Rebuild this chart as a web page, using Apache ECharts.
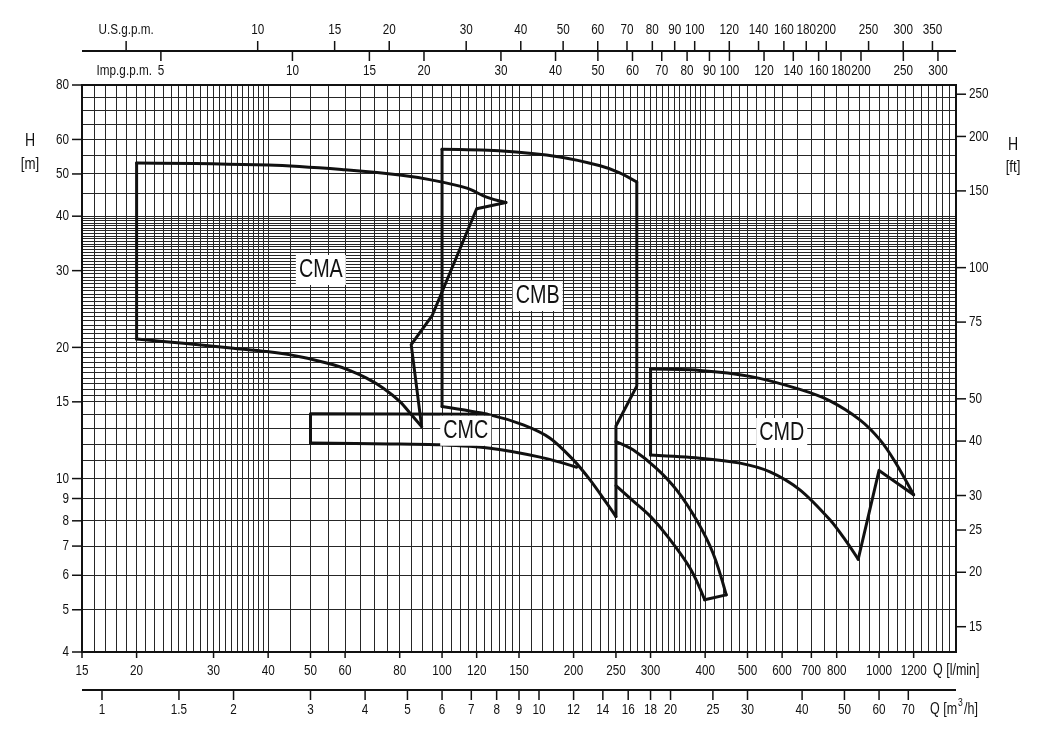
<!DOCTYPE html>
<html><head><meta charset="utf-8">
<script src="https://cdn.jsdelivr.net/npm/echarts@6/dist/echarts.min.js"></script>
<style>html,body{margin:0;padding:0;background:#fff}#c{width:1047px;height:744px}</style>
</head><body><div id="c"></div>
<script>
// ---------- tick labels (axis values) ----------
const qLabelsLmin = [15,20,30,40,50,60,80,100,120,150,200,250,300,400,500,600,700,800,1000,1200];
const qLabelsM3h = [1,1.5,2,3,4,5,6,7,8,9,10,12,14,16,18,20,25,30,40,50,60,70];
const usGpmTitleTick = 5;
const usGpmLabels = [10,15,20,30,40,50,60,70,80,90,100,120,140,160,180,200,250,300,350];
const impGpmLabels = [5,10,15,20,30,40,50,60,70,80,90,100,120,140,160,180,200,250,300];
const hLabelsM = [4,5,6,7,8,9,10,15,20,30,40,50,60,80];
const hLabelsFt = [15,20,25,30,40,50,75,100,150,200,250];
// grid line spacing: [from, to, step]
const xGridRanges = [[15,40,1],[40,150,5],[150,400,10],[400,500,20],[500,600,25],[600,1500,50]];
const yGridRanges = [[5,15,1],[15,40,0.5],[40,80,5]];

// ---------- curves  [Q l/min, H m] ----------
const cmaTop    = [[20,53],[40,52.4],[60,51.1],[80,49.7],[95,48.4],[114,46.4],[126,44.3],[140,43.0]];
const cmaEdge   = [[140,43.0],[120,41.6],[95,23.7],[85,20.3],[89.8,13.16]];
const cmaBottom = [[89.8,13.16],[84.5,14.13],[80.1,15.02],[73.4,16.12],[67.2,17.0],[61.6,17.69],[56.4,18.24],[47.3,19.04],[39.7,19.56],[33.3,19.91],[25.6,20.44],[20,20.9]];
const cmaLeft   = [[20,20.9],[20,53]];

const cmbLeft   = [[100,14.63],[100,57]];
const cmbTop    = [[100,57],[135,56.5],[186,54.7],[230,52.2],[255,50.3],[279,47.9]];
const cmbRight  = [[279,47.9],[279,16.3],[250,13.2],[250,8.18]];
const cmbBottom = [[100,14.63],[128.7,14.0],[153.4,13.28],[176.7,12.38],[199.7,11.04],[218.1,9.93],[238.1,8.78],[250,8.18]];

const tailUpper = [[250,12.16],[273.5,11.64],[309,10.57],[344,9.42],[382,8.04],[417,6.74],[447,5.41]];
const tailEnd   = [[447,5.41],[399,5.27]];
const tailLower = [[399,5.27],[369,6.24],[326,7.43],[299,8.21],[273.5,8.89],[250,9.63]];

const cmcFrame  = [[127,14.05],[50,14.08],[50,12.06]];
const cmcBottom = [[50,12.06],[76,12.01],[98.9,11.95],[128.7,11.74],[167.6,11.2],[203.3,10.62]];

const cmdLeft   = [[300,11.33],[300,17.83]];
const cmdTop    = [[300,17.83],[389,17.71],[507,17.16],[659,16.02],[772,15.08],[904,13.64],[1005,12.27],[1088,10.93],[1200,9.18]];
const cmdNotch  = [[1200,9.18],[1000,10.44],[896,6.53]];
const cmdBottom = [[896,6.53],[836,7.24],[772,8.04],[659,9.42],[563,10.36],[481,10.85],[389,11.14],[300,11.33]];

// ---------- region labels ----------
const labelNames = ['CMA','CMB','CMC','CMD'];
const labelQ = [52.8,165.5,113.3,598.7];
const labelH = [30.1,26.25,12.87,12.73];

// unit conversions
const LPM_PER_M3H = 1000/60, LPM_PER_USGAL = 3.78541, LPM_PER_IMPGAL = 4.54609, M_PER_FT = 0.3048;
const FONT = '"Liberation Sans",Arial,Helvetica,sans-serif';
const INK = '#111';
const NARROW = 0.78;

function expand(ranges){
  const out=[];
  ranges.forEach(([a,b,s])=>{ for(let v=a; v<=b+1e-9; v+=s){ out.push(Math.round(v*100)/100); } });
  return out;
}
const xGrid = expand(xGridRanges), yGrid = expand(yGridRanges);
const crisp = v => Math.floor(v) + 0.5;

function txt(x,y,t,align,size,extra){
  return {type:'text',x:x,y:y,scaleX:NARROW,
    style:Object.assign({x:0,y:0,text:t,fill:INK,fontSize:size||15,fontFamily:FONT,align:align||'center',verticalAlign:'middle'},extra||{})};
}

function renderGrid(params, api){
  const c=[];
  const px=v=>api.coord([v,10])[0], py=v=>api.coord([100,v])[1];
  const xL=px(15), xR=px(1500), yT=py(80), yB=py(4);
  xGrid.forEach(v=>{const x=crisp(px(v)); c.push({type:'line',shape:{x1:x,y1:yT,x2:x,y2:yB},style:{stroke:'#262626',lineWidth:1}});});
  yGrid.forEach(v=>{const y=crisp(py(v)); c.push({type:'line',shape:{x1:xL,y1:y,x2:xR,y2:y},style:{stroke:'#262626',lineWidth:1}});});
  return {type:'group',children:c};
}

function renderAxes(params, api){
  const c=[];
  const px=v=>api.coord([v,10])[0], py=v=>api.coord([100,v])[1];
  const xL=px(15), xR=px(1500), yT=py(80), yB=py(4);
  const line=(x1,y1,x2,y2,w)=>c.push({type:'line',shape:{x1,y1,x2,y2},style:{stroke:INK,lineWidth:w||1.5}});
  const text=(x,y,t,align,size)=>c.push(txt(x,y,t,align,size));
  // frame
  c.push({type:'rect',shape:{x:xL,y:yT,width:xR-xL,height:yB-yT},style:{fill:null,stroke:INK,lineWidth:2}});
  // bottom: l/min
  qLabelsLmin.forEach(v=>{const x=px(v); line(x,yB,x,yB+6); text(x,yB+19,String(v));});
  text(xR-23,yB+19,'Q [l/min]','left',16);
  // m3/h axis
  const yM=yB+38;
  line(xL,yM,xR,yM,2);
  qLabelsM3h.forEach(v=>{const x=px(v*LPM_PER_M3H); line(x,yM,x,yM+10); text(x,yM+20,String(v));});
  text(xR-26,yM+20,'Q [m','left',16);
  text(xR+2,yM+13,'3','left',11);
  text(xR+8,yM+20,'/h]','left',16);
  // top: US gpm and Imp gpm sharing one line
  const yG=yT-34;
  line(xL,yG,xR,yG,2);
  const xu=px(usGpmTitleTick*LPM_PER_USGAL); line(xu,yG,xu,yG-10); text(xu,yG-21,'U.S.g.p.m.');
  usGpmLabels.forEach(v=>{const x=px(v*LPM_PER_USGAL); line(x,yG,x,yG-10); text(x,yG-21,String(v));});
  impGpmLabels.forEach(v=>{const x=px(v*LPM_PER_IMPGAL); line(x,yG,x,yG+10); text(x,yG+20,String(v));});
  text(px(impGpmLabels[0]*LPM_PER_IMPGAL)-9,yG+20,'Imp.g.p.m.','right');
  // left: H [m]
  hLabelsM.forEach(v=>{const y=py(v); line(xL-10,y,xL,y); text(xL-13,y,String(v),'right');});
  text(30,yT+56,'H','center',18);
  text(30,yT+79,'[m]','center',17);
  // right: H [ft]
  hLabelsFt.forEach(v=>{const y=py(v*M_PER_FT); line(xR,y,xR+10,y); text(xR+13,y,String(v),'left');});
  text(1013,yT+60,'H','center',18);
  text(1013,yT+82,'[ft]','center',17);
  return {type:'group',children:c};
}

function renderLabel(params, api){
  const p = api.coord([api.value(0), api.value(1)]);
  const el = txt(p[0], p[1], labelNames[params.dataIndex], 'center', 26, {backgroundColor:'#fff', padding:[3,4,1,4]});
  el.scaleX = 0.76;
  return el;
}

const curveList = [
  [cmaTop,0.35],[cmaEdge,0],[cmaBottom,0.3],[cmaLeft,0],
  [cmbLeft,0],[cmbTop,0.35],[cmbRight,0],[cmbBottom,0.3],
  [tailUpper,0.35],[tailEnd,0],[tailLower,0.35],
  [cmcFrame,0],[cmcBottom,0.3],
  [cmdLeft,0],[cmdTop,0.3],[cmdNotch,0],[cmdBottom,0.3]
];

const series = [
  {type:'custom',renderItem:renderGrid,data:[[100,10]],z:1,silent:true,clip:false},
  {type:'custom',renderItem:renderAxes,data:[[100,10]],z:4,silent:true,clip:false}
];
curveList.forEach(([d,s])=>series.push({type:'line',data:d,smooth:s||false,symbol:'none',z:3,silent:true,
  lineStyle:{color:INK,width:3,join:'round',cap:'round'}}));
series.push({type:'custom',renderItem:renderLabel,z:6,silent:true,clip:false,
  data:labelQ.map((q,i)=>[q,labelH[i]])});

const chart = echarts.init(document.getElementById('c'),null,{renderer:'canvas'});
chart.setOption({
  animation:false,
  backgroundColor:'#fff',
  grid:{left:82,top:85,width:874,height:567,show:false},
  xAxis:{type:'log',logBase:10,min:15,max:1500,axisLine:{show:false},axisTick:{show:false},axisLabel:{show:false},splitLine:{show:false}},
  yAxis:{type:'log',logBase:10,min:4,max:80,axisLine:{show:false},axisTick:{show:false},axisLabel:{show:false},splitLine:{show:false}},
  series
});
</script></body></html>
